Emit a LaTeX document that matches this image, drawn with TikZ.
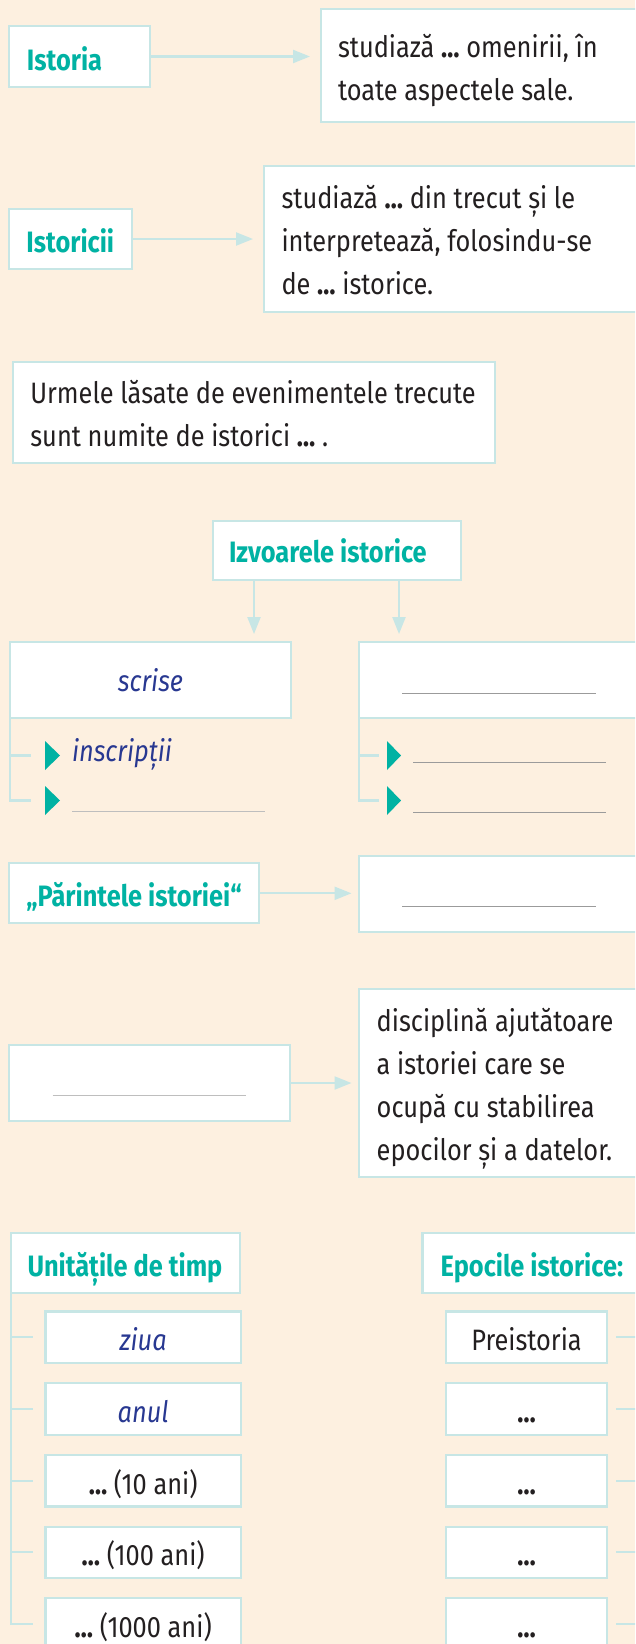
\documentclass[tikz,border=0pt]{standalone}
\usepackage{fontspec}
\setmainfont{Fira Sans}[FakeStretch=0.86]
\usetikzlibrary{arrows.meta}
\definecolor{bg}{RGB}{253,240,224}
\definecolor{bord}{RGB}{199,230,229}
\definecolor{tealc}{RGB}{0,178,163}
\definecolor{bluec}{RGB}{40,56,145}
\definecolor{txt}{RGB}{35,31,32}
\definecolor{lineA}{RGB}{190,190,190}
\definecolor{lineB}{RGB}{155,155,155}
\begin{document}
\begin{tikzpicture}[x=1pt,y=-1pt,
  box/.style={draw=bord, line width=2.2pt, fill=white, inner sep=0pt, outer sep=0pt, anchor=north west},
  conn/.style={draw=bord, line width=2.2pt},
  arr/.style={conn, -{Triangle[length=17pt,width=13pt]}},
  body/.style={font=\fontsize{29.5}{43}\selectfont, text=txt, inner sep=0pt, outer sep=0pt},
  ttl/.style={body, font=\fontsize{29.5}{43}\selectfont\bfseries, text=tealc},
  itx/.style={body, font=\fontsize{29.5}{43}\selectfont\itshape, text=bluec},
  blankA/.style={draw=lineA, line width=1.4pt},
  blankB/.style={draw=lineB, line width=1.3pt},
  bullet/.style={fill=tealc},
]
\useasboundingbox (0,0) rectangle (635,1644);
\fill[bg] (0,0) rectangle (635,1644);
\clip (0,0) rectangle (635,1644);

% Row 1
\node[box, minimum width=141pt, minimum height=61pt] (istoria) at (9,26) {};
\node[ttl, anchor=base west] (istoriaT) at (27,70) {Istoria};
\node[box, minimum width=380pt, minimum height=113pt] (def1) at (321,9) {};
\node[body, anchor=base west] (def1T) at (338,57) {\parbox[t]{300pt}{studiază \textbf{…} omenirii, în\\toate aspectele sale.}};
\draw[arr, shorten >=11pt] (istoria.east) -- (istoria.east -| def1.west);

% Row 2
\node[box, minimum width=123pt, minimum height=60.6pt] (istorici) at (9,208.7) {};
\node[ttl, anchor=base west] (istoriciT) at (26.5,252) {Istoricii};
\node[box, minimum width=440pt, minimum height=146pt] (def2) at (264,166) {};
\node[body, anchor=base west] (def2T) at (281.5,208.3) {\parbox[t]{340pt}{studiază \textbf{…} din trecut și le\\interpretează, folosindu-se\\de \textbf{…} istorice.}};
\draw[arr, shorten >=11pt] (istorici.east) -- (istorici.east -| def2.west);

% Urmele
\node[box, minimum width=482pt, minimum height=101.6pt] (urme) at (13,361.7) {};
\node[body, anchor=base west] (urmeT) at (30.4,403.3) {\parbox[t]{460pt}{Urmele lăsate de evenimentele trecute\\sunt numite de istorici \textbf{…} .}};

% Izvoarele
\node[box, minimum width=248.3pt, minimum height=59.3pt] (izv) at (212.7,520.7) {};
\node[ttl, anchor=base west] (izvT) at (229,562.7) {Izvoarele istorice};

\node[box, minimum width=281pt, minimum height=76.3pt] (src1) at (10,642) {};
\node[itx, anchor=base] (src1T) at (150.5,691.7) {scrise};
\node[box, minimum width=320pt, minimum height=76.3pt] (src2) at (359,642) {};
\draw[blankB] (402,693.3) -- (596,693.3);

\draw[arr, shorten >=8pt] (254,0 |- izv.south) -- (254,0 |- src1.north);
\draw[arr, shorten >=8pt] (399,0 |- izv.south) -- (399,0 |- src2.north);

% left bracket under scrise
\draw[conn] (src1.south west) |- (31,800.5);
\draw[conn] (src1.south west |- 0,755.5) -- (31,755.5);
\fill[bullet] (45,741) -- (60,755.5) -- (45,770) -- cycle;
\fill[bullet] (45,786) -- (60,800.5) -- (45,815) -- cycle;
\node[itx, anchor=base west] (inscT) at (72,761.7) {inscripții};
\draw[blankA] (72,811.5) -- (264.5,811.5);

% right bracket
\draw[conn] (src2.south west) |- (379,800.5);
\draw[conn] (src2.south west |- 0,755.5) -- (379,755.5);
\fill[bullet] (387,741) -- (401,755.5) -- (387,770) -- cycle;
\fill[bullet] (387,786) -- (401,800.5) -- (387,815) -- cycle;
\draw[blankB] (413,762.3) -- (606,762.3);
\draw[blankB] (413,812.3) -- (606,812.3);

% Parintele
\node[box, minimum width=250pt, minimum height=60pt] (par) at (9,863.3) {};
\node[ttl, anchor=base west] (parT) at (26.3,906.7) {„Părintele istoriei“};
\node[box, minimum width=320pt, minimum height=76pt] (parR) at (359,855.7) {};
\draw[blankB] (402,906.7) -- (596,906.7);
\draw[arr, shorten >=7.5pt] (par.east) -- (par.east -| parR.west);

% Cronologia
\node[box, minimum width=280.6pt, minimum height=76pt] (cron) at (9,1045) {};
\draw[blankA] (52.7,1095.7) -- (245.8,1095.7);
\node[box, minimum width=320pt, minimum height=187.7pt] (disc) at (359,989) {};
\node[body, anchor=base west] (discT) at (376.7,1031.7) {\parbox[t]{300pt}{disciplină ajutătoare\\a istoriei care se\\ocupă cu stabilirea\\epocilor și a datelor.}};
\draw[arr, shorten >=7.5pt] (cron.east) -- (cron.east -| disc.west);

% Unitatile de timp
\node[box, minimum width=229pt, minimum height=60pt] (unit) at (11,1233.3) {};
\node[ttl, anchor=base west] (unitT) at (27.5,1276.7) {Unitățile de timp};
\node[box, minimum width=260pt, minimum height=60pt] (epo) at (422.4,1233.3) {};
\node[ttl, anchor=base west] (epoT) at (440.7,1276.7) {Epocile istorice:};

\node[box, minimum width=195.6pt, minimum height=51.5pt] (u1) at (45.4,1311.5) {};
\node[box, minimum width=195.6pt, minimum height=51.5pt] (u2) at (45.4,1383.2) {};
\node[box, minimum width=195.6pt, minimum height=51.5pt] (u3) at (45.4,1454.9) {};
\node[box, minimum width=195.6pt, minimum height=51.5pt] (u4) at (45.4,1526.6) {};
\node[box, minimum width=195.6pt, minimum height=51.5pt] (u5) at (45.4,1598.3) {};
\node[itx, anchor=base] (u1T) at (143.2,1350.7) {ziua};
\node[itx, anchor=base] (u2T) at (143.2,1422.4) {anul};
\node[body, anchor=base] (u3T) at (143.2,1494.1) {\textbf{…} (10 ani)};
\node[body, anchor=base] (u4T) at (143.2,1565.8) {\textbf{…} (100 ani)};
\node[body, anchor=base] (u5T) at (143.2,1637.5) {\textbf{…} (1000 ani)};

\draw[conn] (unit.south west) |- (33,1624);
\foreach \yy in {1337.25,1408.95,1480.65,1552.35} {
  \draw[conn] (unit.south west |- 0,\yy) -- (33,\yy);
}

\node[box, minimum width=161pt, minimum height=51.5pt] (e1) at (446,1311.5) {};
\node[box, minimum width=161pt, minimum height=51.5pt] (e2) at (446,1383.2) {};
\node[box, minimum width=161pt, minimum height=51.5pt] (e3) at (446,1454.9) {};
\node[box, minimum width=161pt, minimum height=51.5pt] (e4) at (446,1526.6) {};
\node[box, minimum width=161pt, minimum height=51.5pt] (e5) at (446,1598.3) {};
\node[body, anchor=base] (e1T) at (526.5,1350.7) {Preistoria};
\node[body, anchor=base] (e2T) at (526.5,1422.4) {\textbf{…}};
\node[body, anchor=base] (e3T) at (526.5,1494.1) {\textbf{…}};
\node[body, anchor=base] (e4T) at (526.5,1565.8) {\textbf{…}};
\node[body, anchor=base] (e5T) at (526.5,1637.5) {\textbf{…}};
\foreach \yy in {1337.25,1408.95,1480.65,1552.35,1624.05} {
  \draw[conn] (616,\yy) -- (640,\yy);
}
\end{tikzpicture}
\end{document}
